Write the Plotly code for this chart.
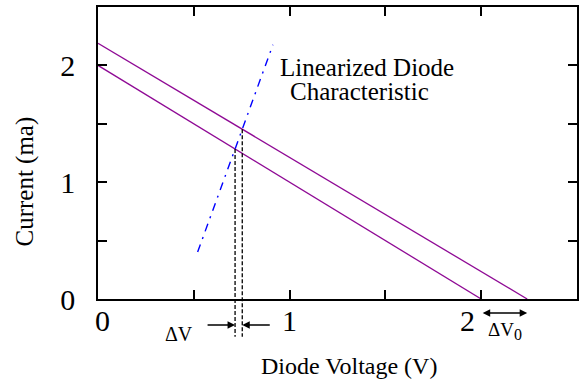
import plotly.graph_objects as go

# ---- data ----
load_x_low = [0.0, 2.0]
load_y_low = [2.0, 0.0]
load_x_high = [0.0, 2.24]
load_y_high = [2.19, 0.0]
diode_x = [0.52, 0.913]
diode_y = [0.402, 2.177]

tick_vals = [0, 0.5, 1, 1.5, 2]
x_tick_text = ["0", "", "1", "", "2"]
y_tick_text = ["0", "", "1", "", "2"]

X_MAX = 2.5
Y_MAX = 2.5


def intersect(ax, ay, bx, by):
    # line-line intersection of two segments' infinite lines
    x1, x2 = ax
    y1, y2 = ay
    x3, x4 = bx
    y3, y4 = by
    d = (x1 - x2) * (y3 - y4) - (y1 - y2) * (x3 - x4)
    px = ((x1 * y2 - y1 * x2) * (x3 - x4) - (x1 - x2) * (x3 * y4 - y3 * x4)) / d
    py = ((x1 * y2 - y1 * x2) * (y3 - y4) - (y1 - y2) * (x3 * y4 - y3 * x4)) / d
    return px, py


p_low = intersect(load_x_low, load_y_low, diode_x, diode_y)
p_high = intersect(load_x_high, load_y_high, diode_x, diode_y)

PURPLE = "#8f0a95"
FONT = "Liberation Serif"

fig = go.Figure()
fig.add_trace(go.Scatter(x=load_x_low, y=load_y_low, mode="lines",
                         line=dict(color=PURPLE, width=1.3), showlegend=False, hoverinfo="skip"))
fig.add_trace(go.Scatter(x=load_x_high, y=load_y_high, mode="lines",
                         line=dict(color=PURPLE, width=1.3), showlegend=False, hoverinfo="skip"))
fig.add_trace(go.Scatter(x=diode_x, y=diode_y, mode="lines",
                         line=dict(color="#0000ff", width=1.4, dash="8px,6px,2px,6px"),
                         showlegend=False, hoverinfo="skip"))

dash_bottom = -0.129
shapes = []
for p in (p_low, p_high):
    shapes.append(dict(type="line", xref="x", yref="paper",
                       x0=p[0], x1=p[0], y0=p[1] / Y_MAX, y1=dash_bottom,
                       line=dict(color="black", width=1.3, dash="4px,2px")))

# x tick labels drawn as text under the ticks ("2" sits left of its tick, as in the original)
x_label_shift = [4, 0, 0, 0, -14]
annotations = []
for v, t, s in zip(tick_vals, x_tick_text, x_label_shift):
    if t:
        annotations.append(dict(x=v, y=0, xref="x", yref="paper", text=t, showarrow=False,
                                xshift=s, yshift=-21, xanchor="center", yanchor="middle",
                                font=dict(family=FONT, size=30, color="black")))

arrow_y = -0.089
annotations += [
    # delta V arrows
    dict(x=p_low[0], y=arrow_y, xref="x", yref="paper", text="", showarrow=True,
         ax=-29, ay=0, arrowhead=2, arrowsize=1, arrowwidth=1.5, arrowcolor="black"),
    dict(x=p_high[0], y=arrow_y, xref="x", yref="paper", text="", showarrow=True,
         ax=29, ay=0, arrowhead=2, arrowsize=1, arrowwidth=1.5, arrowcolor="black"),
    dict(x=0.423, y=-0.1205, xref="x", yref="paper", text="\u0394V", showarrow=False,
         font=dict(family=FONT, size=20, color="black"), xanchor="center", yanchor="middle"),
    # delta V0 double arrow
    dict(x=load_x_high[1], y=-0.048, xref="x", yref="paper", text="", showarrow=True,
         ax=load_x_low[1], ay=0, axref="x", ayref="pixel", arrowhead=2, startarrowhead=2,
         arrowside="end+start", arrowsize=1, startarrowsize=1, arrowwidth=1.5,
         arrowcolor="black"),
    dict(x=2.123, y=-0.11, xref="x", yref="paper",
         text="\u0394V<sub><span style=\"font-size:16px\">0</span></sub>", showarrow=False,
         font=dict(family=FONT, size=19, color="black"), xanchor="center", yanchor="middle"),
    # curve label
    dict(x=1.402, y=1.985, xref="x", yref="y", text="Linearized Diode", showarrow=False,
         font=dict(family=FONT, size=25, color="black"), xanchor="center", yanchor="middle"),
    dict(x=1.363, y=1.78, xref="x", yref="y", text="Characteristic", showarrow=False,
         font=dict(family=FONT, size=25, color="black"), xanchor="center", yanchor="middle"),
    # axis titles
    dict(x=0.525, y=-0.228, xref="paper", yref="paper", text="Diode Voltage (V)",
         showarrow=False, font=dict(family=FONT, size=24, color="black"),
         xanchor="center", yanchor="middle"),
    dict(x=-0.152, y=0.403, xref="paper", yref="paper", text="Current (ma)",
         showarrow=False, textangle=-90, font=dict(family=FONT, size=25, color="black"),
         xanchor="center", yanchor="middle"),
]

axis_common = dict(showline=True, linecolor="black", linewidth=1.6, mirror="ticks",
                   ticks="inside", ticklen=9, tickwidth=1.5, tickcolor="black",
                   showgrid=False, zeroline=False, tickmode="array", tickvals=tick_vals,
                   tickfont=dict(family=FONT, size=30, color="black"), fixedrange=True)

fig.update_layout(
    width=579, height=379,
    margin=dict(l=98, r=0, t=7, b=80),
    paper_bgcolor="white", plot_bgcolor="white",
    xaxis=dict(range=[0, X_MAX], showticklabels=False, **axis_common),
    yaxis=dict(range=[0, Y_MAX], ticktext=y_tick_text, ticklabelstandoff=15, **axis_common),
    shapes=shapes,
    annotations=annotations,
    showlegend=False,
)

fig.write_html("out.html", config={"displayModeBar": False},
               post_script="document.body.style.margin='0px';document.body.style.overflow='hidden';")
